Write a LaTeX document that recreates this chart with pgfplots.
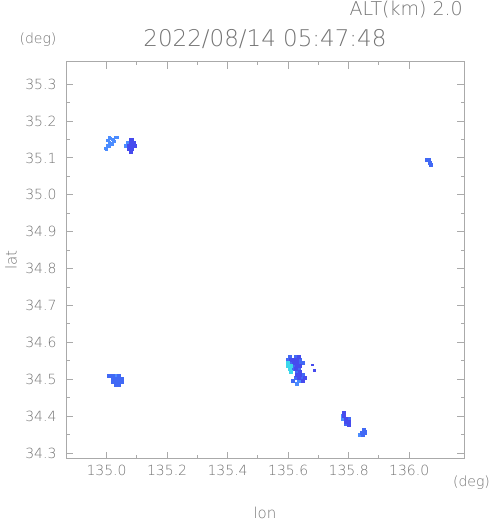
\documentclass[border=0pt]{standalone}
\usepackage{fontspec}
\setmainfont{DejaVu Sans ExtraLight}
\usepackage{pgfplots}
\pgfplotsset{compat=1.18}
\definecolor{lb}{RGB}{75,140,255}
\definecolor{mb}{RGB}{65,105,245}
\definecolor{db}{RGB}{70,75,238}
\definecolor{cy}{RGB}{60,215,235}
\definecolor{fr}{RGB}{170,170,170}
\definecolor{tx}{RGB}{115,115,115}
\begin{document}
\begin{tikzpicture}
\useasboundingbox (0,0) rectangle (491bp,521bp);
\begin{axis}[
  at={(66bp,62bp)}, anchor=south west,
  scale only axis, width=398bp, height=397bp,
  xmin=134.866, xmax=136.181, ymin=34.284, ymax=35.360,
  xtick={135.0,135.2,135.4,135.6,135.8,136.0},
  ytick={34.3,34.4,34.5,34.6,34.7,34.8,34.9,35.0,35.1,35.2,35.3},
  minor x tick num=1, minor y tick num=1,
  tick align=inside,
  major tick length=7bp, minor tick length=3.5bp,
  axis line style={fr, line width=1bp},
  every tick/.style={fr, line width=1bp},
  /pgf/number format/assume math mode=true,
  /pgf/number format/fixed, /pgf/number format/fixed zerofill,
  /pgf/number format/precision=1,
  /pgf/number format/1000 sep={},
  ticklabel style={font=\fontsize{14bp}{16bp}\selectfont, text=tx},
  yticklabel style={xshift=-6bp},
  xticklabel style={yshift=-2.3bp},
  clip=false,
  every axis plot/.append style={only marks, mark=square*, mark size=1.6bp, mark options={line width=0pt}},
]
% light blue scattered dashes (small)
\addplot[color=lb, mark size=1.1bp] coordinates {
(135.009,35.156) (135.014,35.153) (135.020,35.151) (135.031,35.156) (135.036,35.156)
(135.005,35.147) (135.022,35.147) (135.026,35.145)
(135.011,35.142) (135.016,35.140) (135.020,35.138) (135.005,35.133) (135.009,35.131) (135.000,35.124) (134.998,35.126)
};
% light blue pixels
\addplot[color=lb] coordinates {
(135.065,35.132) (135.070,35.140)
(135.030,34.508)
(135.635,34.496) (135.630,34.488)
(135.780,34.400) (135.780,34.392)
(135.838,34.350)
};
% medium blue
\addplot[color=mb] coordinates {
(135.010,34.508) (135.020,34.508) (135.040,34.508)
(135.020,34.500) (135.030,34.500) (135.040,34.500) (135.050,34.500)
(135.020,34.492) (135.030,34.492) (135.040,34.492) (135.050,34.494)
(135.030,34.484) (135.040,34.484)
(135.605,34.560) (135.625,34.560)
(135.600,34.552) (135.640,34.552)
(135.610,34.544) (135.640,34.544) (135.650,34.544)
(135.620,34.536)
(135.615,34.528) (135.635,34.528)
(135.630,34.520)
(135.650,34.512)
(135.625,34.504) (135.645,34.504)
(135.615,34.496)
(135.800,34.392) (135.790,34.378)
(135.850,34.362) (135.855,34.356) (135.845,34.355) (135.848,34.350)
(136.058,35.094) (136.066,35.094) (136.068,35.086) (136.072,35.080)
};
% dark blue
\addplot[color=db] coordinates {
(135.080,35.148) (135.085,35.148)
(135.080,35.140) (135.090,35.140)
(135.075,35.132) (135.085,35.132) (135.095,35.132)
(135.075,35.124) (135.085,35.124)
(135.080,35.116)
(135.635,34.560)
(135.610,34.552) (135.620,34.552) (135.630,34.552)
(135.620,34.544) (135.630,34.544)
(135.630,34.536) (135.640,34.536)
(135.625,34.528)
(135.640,34.520)
(135.630,34.512) (135.640,34.512)
(135.635,34.504) (135.655,34.504)
(135.650,34.496)
(135.785,34.408) (135.785,34.400)
(135.790,34.392) (135.790,34.384) (135.800,34.384) (135.800,34.376)
};
% isolated small pixels
\addplot[color=db, mark size=0.8bp] coordinates {
(135.680,34.539) (135.688,34.524)
};
% cyan
\addplot[color=cy] coordinates {
(135.600,34.544) (135.600,34.536) (135.610,34.536) (135.605,34.528) (135.610,34.520)
};
\end{axis}
\node[text=tx, font=\fontsize{23bp}{26bp}\selectfont] at (265bp,482bp) {2022/08/14 05:47:48};
\node[text=tx, font=\fontsize{19bp}{22bp}\selectfont, anchor=east, inner sep=0pt] at (463bp,511bp) {ALT(km) 2.0};
\node[text=tx, font=\fontsize{14bp}{16bp}\selectfont, inner sep=0pt] at (38bp,481bp) {(deg)};
\node[text=tx, font=\fontsize{14bp}{16bp}\selectfont, inner sep=0pt] at (471.5bp,38bp) {(deg)};
\node[text=tx, font=\fontsize{15bp}{17bp}\selectfont, anchor=base, inner sep=0pt] at (265bp,3bp) {lon};
\node[text=tx, font=\fontsize{15bp}{17bp}\selectfont, rotate=90, inner sep=0pt] at (11bp,261bp) {lat};
\end{tikzpicture}
\end{document}
